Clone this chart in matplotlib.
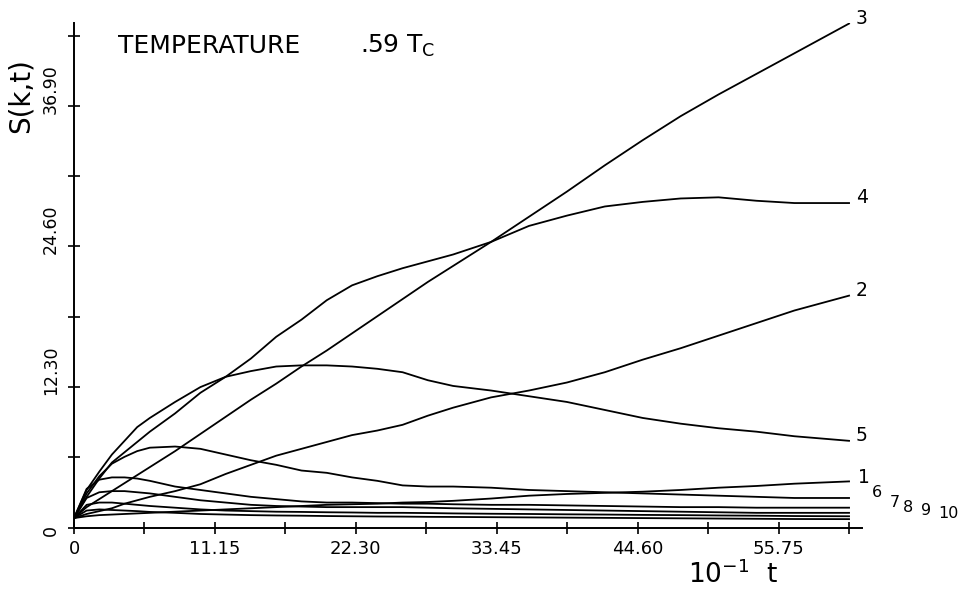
import numpy as np
import matplotlib
matplotlib.use('Agg')
import matplotlib.pyplot as plt
from matplotlib.transforms import ScaledTranslation

plt.rcParams['font.family'] = ['DejaVu Sans']
plt.rcParams['mathtext.default'] = 'regular'

# time axis (units of 10 t)
t = [0, 1, 2, 3, 4, 5, 6, 8, 10, 12, 14, 16, 18, 20, 22, 24, 26, 28, 30,
     33, 36, 39, 42, 45, 48, 51, 54, 57, 61.325]

# S(k,t) for k = 1..10
s1 = [0.84, 1.0, 1.1, 1.15, 1.2, 1.25, 1.3, 1.4, 1.5, 1.6, 1.7, 1.8, 1.9, 2.0, 2.05,
      2.1, 2.2, 2.25, 2.35, 2.55, 2.8, 2.95, 3.05, 3.15, 3.3, 3.5, 3.65, 3.85, 4.05]
s2 = [0.84, 1.2, 1.45, 1.7, 2.1, 2.4, 2.7, 3.2, 3.8, 4.7, 5.5, 6.3, 6.9, 7.5, 8.1,
      8.5, 9.0, 9.8, 10.5, 11.4, 12.0, 12.7, 13.6, 14.7, 15.7, 16.8, 17.9, 19.0, 20.3]
s3 = [0.84, 1.8, 2.5, 3.2, 3.9, 4.6, 5.3, 6.7, 8.2, 9.7, 11.2, 12.6, 14.1, 15.5, 17.0,
      18.5, 20.0, 21.5, 22.9, 25.0, 27.2, 29.4, 31.7, 33.9, 36.0, 37.9, 39.7, 41.5, 44.1]
s4 = [0.84, 2.7, 4.3, 5.7, 6.6, 7.5, 8.4, 10.0, 11.8, 13.2, 14.8, 16.7, 18.2, 19.9, 21.2,
      22.0, 22.7, 23.3, 23.9, 25.0, 26.4, 27.3, 28.1, 28.5, 28.8, 28.9, 28.6, 28.4, 28.4]
s5 = [0.84, 3.3, 4.9, 6.4, 7.6, 8.8, 9.6, 11.0, 12.3, 13.2, 13.7, 14.1, 14.2, 14.2, 14.1,
      13.9, 13.6, 12.9, 12.4, 12.0, 11.5, 11.0, 10.3, 9.6, 9.1, 8.7, 8.4, 8.0, 7.6]
s6 = [0.84, 3.0, 4.5, 5.6, 6.2, 6.7, 7.0, 7.1, 6.9, 6.4, 5.9, 5.5, 5.0, 4.8, 4.4,
      4.1, 3.7, 3.6, 3.6, 3.5, 3.3, 3.2, 3.1, 3.0, 2.9, 2.8, 2.7, 2.6, 2.6]
s7 = [0.84, 3.4, 4.2, 4.4, 4.4, 4.3, 4.1, 3.6, 3.3, 3.0, 2.7, 2.5, 2.3, 2.2, 2.2,
      2.15, 2.1, 2.1, 2.05, 2.0, 2.0, 1.95, 1.9, 1.85, 1.8, 1.8, 1.75, 1.75, 1.75]
s8 = [0.84, 2.6, 3.1, 3.2, 3.2, 3.1, 3.0, 2.7, 2.4, 2.2, 2.0, 1.9, 1.85, 1.8, 1.8,
      1.8, 1.8, 1.75, 1.7, 1.65, 1.6, 1.55, 1.5, 1.45, 1.4, 1.35, 1.3, 1.3, 1.3]
s9 = [0.84, 2.0, 2.2, 2.2, 2.1, 2.0, 1.9, 1.75, 1.6, 1.5, 1.45, 1.4, 1.38, 1.35, 1.33,
      1.3, 1.3, 1.28, 1.25, 1.22, 1.2, 1.17, 1.15, 1.12, 1.1, 1.07, 1.05, 1.02, 1.0]
s10 = [0.84, 1.5, 1.6, 1.55, 1.5, 1.45, 1.38, 1.3, 1.2, 1.15, 1.1, 1.07, 1.05, 1.02, 1.0,
       0.98, 0.97, 0.95, 0.94, 0.92, 0.9, 0.88, 0.86, 0.84, 0.82, 0.8, 0.78, 0.76, 0.75]

curves = [s1, s2, s3, s4, s5, s6, s7, s8, s9, s10]
names = ['1', '2', '3', '4', '5', '6', '7', '8', '9', '10']

xticks = [0, 11.15, 22.30, 33.45, 44.60, 55.75]
xticklabels = ['0', '11.15', '22.30', '33.45', '44.60', '55.75']
yticks = [0, 12.30, 24.60, 36.90]
yticklabels = ['0', '12.30', '24.60', '36.90']

fig = plt.figure(figsize=(9.6, 5.9), dpi=100)
ax = fig.add_axes([74/960, 62.3/590, 788/960, 504.7/590])

for s in curves:
    ax.plot(t, s, color='black', lw=1.3)

# curve numbers at the right end
offsets = [(6.5, 3), (5, 4), (5, 4), (5, 4), (5, 4),
           (16.5, 4), (29, 4), (39, 4), (51.5, 4), (64, 4)]
for s, name, off in zip(curves, names, offsets):
    size = 13.5 if int(name) <= 5 else 11.5
    ax.annotate(name, xy=(t[-1], s[-1]), xytext=off, textcoords='offset points',
                ha='left', va='center', fontsize=size, annotation_clip=False)

ax.set_xlim(0, 62.35)
ax.set_ylim(0, 44.15)

ax.spines['top'].set_visible(False)
ax.spines['right'].set_visible(False)
ax.spines['left'].set_linewidth(1.4)
ax.spines['bottom'].set_linewidth(1.4)

ax.set_xticks(xticks)
ax.set_xticklabels(xticklabels, fontsize=13)
ax.set_xticks([5.575, 16.725, 27.875, 39.025, 50.175, 61.325], minor=True)
ax.set_yticks(yticks)
ax.set_yticklabels(yticklabels, fontsize=12.5, rotation=90, va='bottom')
ax.set_yticks([6.15, 18.45, 30.75, 43.05], minor=True)
ax.tick_params(which='both', direction='inout', length=9, width=1.2)
ax.tick_params(axis='x', pad=4.5)
ax.tick_params(axis='y', pad=5.5)

# the plotter put the y labels a little below their ticks
shift = ScaledTranslation(0, -0.08, fig.dpi_scale_trans)
for lab in ax.get_yticklabels():
    lab.set_transform(lab.get_transform() + shift)

ax.set_ylabel('S(k,t)', fontsize=20)
ax.yaxis.set_label_coords(-0.0495, 0.857)
ax.set_xlabel('$10^{-1}$  t', fontsize=19)
ax.xaxis.set_label_coords(0.836, -0.064)

ax.text(0.0558, 0.9406, 'TEMPERATURE', transform=ax.transAxes, fontsize=18)
ax.text(0.363, 0.9406, '.59 T$_C$', transform=ax.transAxes, fontsize=18)

plt.savefig('out.png', dpi=100)
